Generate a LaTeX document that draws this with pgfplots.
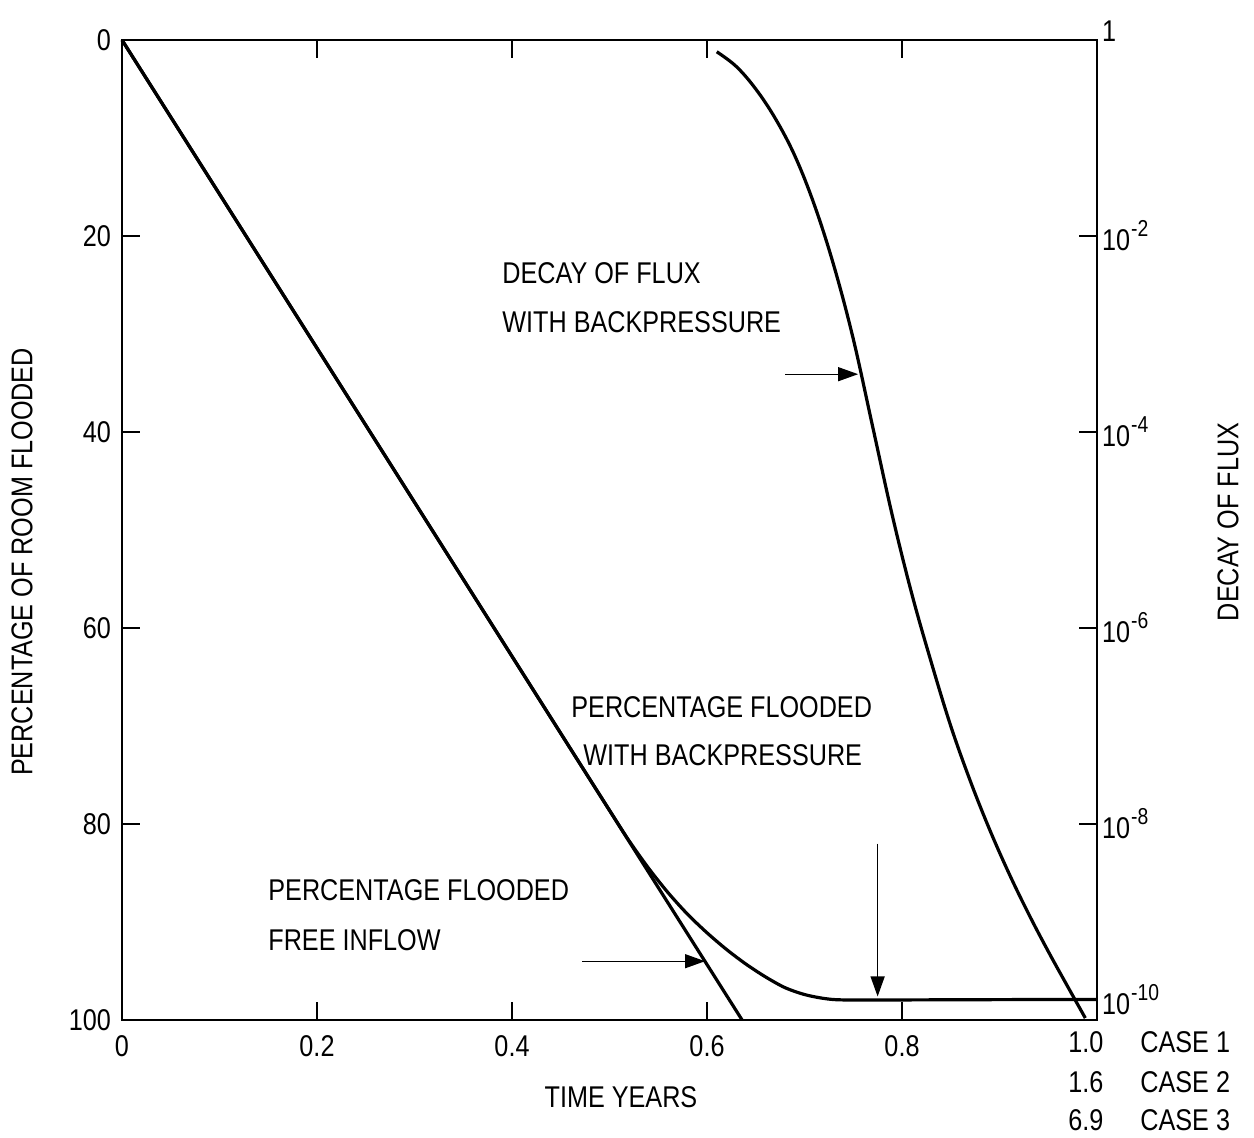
\documentclass[border=0pt]{standalone}
\usepackage{fontspec}
\setmainfont{Liberation Sans}[FakeStretch=0.84]
\usepackage{pgfplots}
\pgfplotsset{compat=1.18}
\usetikzlibrary{arrows.meta}
\newcommand{\lf}{\fontsize{15pt}{18pt}\selectfont}
\newcommand{\tp}[1]{10\hspace{0.5pt}\raisebox{7pt}{\fontsize{11.5pt}{12pt}\selectfont #1}}
\begin{document}
\begin{tikzpicture}[font=\lf]
\path[use as bounding box] (0pt,0pt) rectangle (627pt,-569pt);
\begin{axis}[
 at={(61pt,-510pt)}, anchor=south west,
 width=487.5pt, height=490pt, scale only axis,
 xmin=0, xmax=1, ymin=0, ymax=100, y dir=reverse,
 xtick={0,0.2,0.4,0.6,0.8,1}, xticklabels={0,0.2,0.4,0.6,0.8,{}},
 ytick={0,20,40,60,80,100},
 yticklabels={0,20,40,60,80,100},
 tick align=inside,
 major tick length=9pt,
 axis line style={line width=0.8pt},
 tick style={line width=0.7pt, black},
 every tick label/.append style={font=\lf},
 /pgf/number format/assume math mode=true,
 yticklabel style={xshift=-2pt},
 xticklabel style={yshift=-4pt},
 clip=false,
]
\addplot[line width=1.6pt] coordinates {(0,0) (0.636,100)};
\addplot[line width=1.6pt, smooth, tension=0.5] coordinates {
 (0,0) (0.25,39.3) (0.45,70.75) (0.50,78.6) (0.52,81.7) (0.54,84.5) (0.56,87.0)
 (0.58,89.2) (0.60,91.1) (0.62,92.8) (0.64,94.3) (0.66,95.6) (0.68,96.7)
 (0.70,97.4) (0.72,97.8) (0.74,97.95) (0.80,97.95) (0.90,97.92) (1.0,97.9)};
\draw[line width=0.6pt, -{Triangle[length=10pt,width=7pt]}] (axis cs:0.680,34.1) -- (axis cs:0.755,34.1);
\draw[line width=0.6pt, -{Triangle[length=10pt,width=7pt]}] (axis cs:0.472,94.0) -- (axis cs:0.598,94.0);
\draw[line width=0.6pt, -{Triangle[length=10pt,width=7pt]}] (axis cs:0.775,82.0) -- (axis cs:0.775,97.6);
\end{axis}
\begin{axis}[
 at={(61pt,-510pt)}, anchor=south west,
 width=487.5pt, height=490pt, scale only axis,
 xmin=0, xmax=1, ymode=log, ymin=1e-10, ymax=1,
 axis y line*=right, axis x line=none,
 ytick={1e-10,1e-8,1e-6,1e-4,1e-2,1},
 yticklabels={\raisebox{3pt}[0pt][0pt]{\tp{-10}},\tp{-8},\tp{-6},\tp{-4},\tp{-2},\raisebox{9pt}{1}},
 minor ytick={},
 tick align=inside,
 major tick length=9pt,
 axis line style={line width=0.8pt},
 tick style={line width=0.7pt, black},
 every tick label/.append style={font=\lf},
 yticklabel style={anchor=west, xshift=-1pt},
]
\addplot[line width=1.6pt, smooth, tension=0.6] coordinates {
 (0.610,0.7586) (0.63,0.5370) (0.65,0.3162) (0.67,0.1585) (0.69,0.06607)
 (0.71,0.02089) (0.73,5.012e-3) (0.75,8.913e-4) (0.77,1.122e-4) (0.79,1.413e-5)
 (0.81,2.239e-6) (0.83,4.467e-7) (0.85,1.0e-7) (0.87,2.754e-8) (0.89,8.710e-9)
 (0.91,3.090e-9) (0.93,1.202e-9) (0.95,5.012e-10) (0.97,2.188e-10) (0.988,1.047e-10)};
\end{axis}
\node[anchor=west, inner sep=0pt] at (251pt,-136.5pt) {DECAY OF FLUX};
\node[anchor=west, inner sep=0pt] at (251pt,-161pt) {WITH BACKPRESSURE};
\node[anchor=west, inner sep=0pt] at (285.5pt,-353.5pt) {PERCENTAGE FLOODED};
\node[anchor=west, inner sep=0pt] at (291.5pt,-377.5pt) {WITH BACKPRESSURE};
\node[anchor=west, inner sep=0pt] at (134pt,-445pt) {PERCENTAGE FLOODED};
\node[anchor=west, inner sep=0pt] at (134pt,-470pt) {FREE INFLOW};
\node[inner sep=0pt] at (310.5pt,-548.5pt) {TIME YEARS};
\node[inner sep=0pt, rotate=90] at (11pt,-281pt) {PERCENTAGE OF ROOM FLOODED};
\node[inner sep=0pt, rotate=90] at (614pt,-261pt) {DECAY OF FLUX};
\node[anchor=west, inner sep=0pt] at (534pt,-521pt) {1.0};
\node[anchor=west, inner sep=0pt] at (534pt,-541pt) {1.6};
\node[anchor=west, inner sep=0pt] at (534pt,-560pt) {6.9};
\node[anchor=west, inner sep=0pt] at (570pt,-521pt) {CASE 1};
\node[anchor=west, inner sep=0pt] at (570pt,-541pt) {CASE 2};
\node[anchor=west, inner sep=0pt] at (570pt,-560pt) {CASE 3};
\end{tikzpicture}
\end{document}
